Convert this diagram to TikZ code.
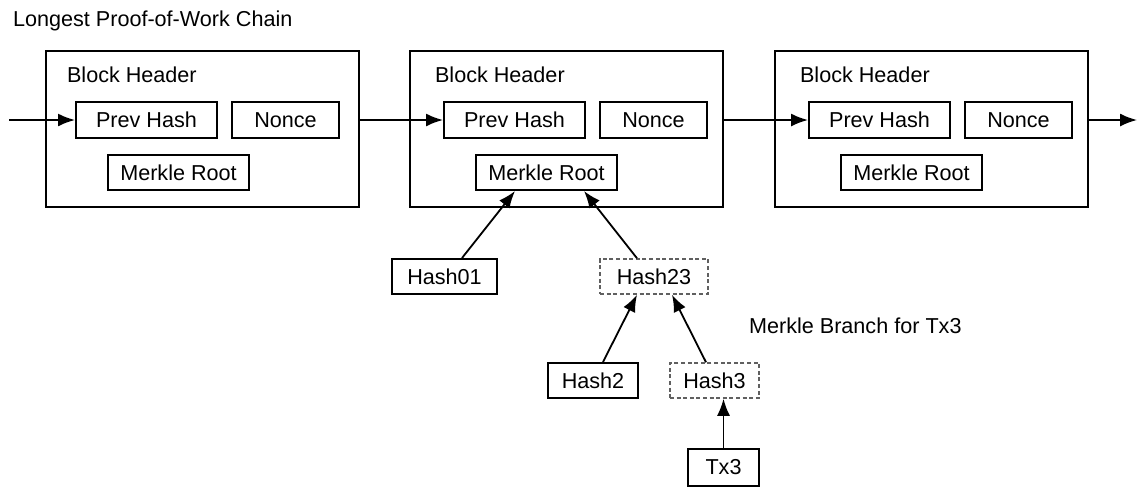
\documentclass[tikz,border=0pt]{standalone}
\usepackage{fontspec}
\setmainfont{Liberation Sans}
\usetikzlibrary{arrows.meta}

\begin{document}
\begin{tikzpicture}[
  x=0.5pt, y=-0.5pt,
  every node/.style={font=\fontsize{10.8}{13}\selectfont},
  box/.style={draw,line width=1pt,inner sep=0pt,minimum height=17.5pt},
  branch box/.style={box,draw=gray!75!black,line width=0.75pt,dash pattern=on 2pt off 1.3pt},
  block/.style={draw,line width=1pt,inner sep=0pt,minimum width=156.5pt,minimum height=78pt},
  link/.style={line width=0.9pt,-{Latex[length=8.5pt,width=6.5pt]}},
]
\useasboundingbox (0,0) rectangle (1138,488);
\node[anchor=base west] (title) at (6,26) {Longest Proof-of-Work Chain};
\foreach[count=\i] \bx/\ix in {46/-4,410/0,775/0} {
  \node[block] (blk\i) at (\bx+156.5,129) {};
  \node[anchor=base west] (hdr\i) at (\bx+18+\ix,82) {Block Header};
  \node[box,minimum width=70.5pt,minimum height=18pt] (prev\i) at (\bx+104.5+\ix,120) {Prev Hash};
  \node[box,minimum width=53.5pt,minimum height=18pt] (nonce\i) at (\bx+243.5+\ix,120) {Nonce};
  \node[box,minimum width=70.5pt] (root\i) at (\bx+136.5+\ix,172.5) {Merkle Root};
}
\coordinate (in) at (9,120);
\coordinate (out) at (1137,120);
\draw[link] (in) -- (prev1.west);
\draw[link] (blk1.east |- prev1.west) -- (prev2.west);
\draw[link] (blk2.east |- prev2.west) -- (prev3.west);
\draw[link] (blk3.east |- prev3.west) -- (out);

\node[box,minimum width=52.5pt] (h01) at (444.5,276.5) {Hash01};
\node[branch box,minimum width=54pt] (h23) at (654,276.5) {Hash23};
\node[box,minimum width=45pt] (h2) at (593,380.5) {Hash2};
\node[branch box,minimum width=44.5pt] (h3) at (714.5,380.5) {Hash3};
\node[box,minimum width=35.5pt,minimum height=18.5pt] (tx3) at (723.5,467.5) {Tx3};
\node[anchor=base west] (branch) at (742,333) {Merkle Branch for Tx3};

\draw[link] ([xshift=8.75pt]h01.north) -- ([xshift=-15.75pt]root2.south);
\draw[link] ([xshift=-8.5pt]h23.north) -- ([xshift=18.75pt]root2.south);
\draw[link] ([xshift=5pt]h2.north) -- ([xshift=-8.5pt]h23.south);
\draw[link] ([xshift=-4.25pt]h3.north) -- ([xshift=9pt]h23.south);
\draw[link] (tx3.north) -- (tx3.north |- h3.south);
\end{tikzpicture}
\end{document}
